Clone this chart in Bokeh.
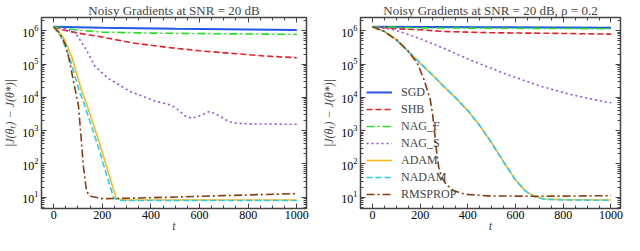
from bokeh.plotting import figure
from bokeh.layouts import row
from bokeh.models import (Range1d, LinearAxis, LogAxis, SingleIntervalTicker, LogTicker,
                          CustomJSTickFormatter)
from bokeh.embed import file_html
from bokeh.resources import INLINE

FONT = "Liberation Serif"

names = ["SGD", "SHB", "NAG_F", "NAG_S", "ADAM", "NADAM", "RMSPROP"]
titles = ["Noisy Gradients at SNR = 20 dB", "Noisy Gradients at SNR = 20 dB, \u03c1 = 0.2"]

# ---------------- left panel ----------------
L_sgd_t = [0, 200, 500, 1000]
L_sgd_y = [1.32e6, 1.23e6, 1.15e6, 1.05e6]
L_shb_t = [0, 40, 100, 183, 325, 463, 600, 870, 1000]
L_shb_y = [1.32e6, 1.05e6, 8.5e5, 6.8e5, 4.3e5, 3.2e5, 2.5e5, 1.74e5, 1.55e5]
L_nagf_t = [0, 50, 100, 200, 400, 700, 1000]
L_nagf_y = [1.32e6, 1.17e6, 1.05e6, 9.1e5, 8.5e5, 8.1e5, 7.8e5]
L_nags_t = [0, 50, 88, 129, 170, 224, 317, 415, 467, 500, 540, 569, 600, 642, 680, 720, 740, 800, 1000]
L_nags_y = [1.32e6, 1.12e6, 8.9e5, 3.1e5, 8.5e4, 3.7e4, 1.48e4, 7.8e3, 6.3e3, 5.0e3, 2.8e3,
            2.35e3, 2.8e3, 3.8e3, 2.8e3, 1.9e3, 1.7e3, 1.6e3, 1.55e3]
L_adam_t = [0, 20, 40, 75, 116, 135, 150, 190, 244, 257, 280, 400, 1000]
L_adam_y = [1.32e6, 9.5e5, 6.3e5, 1.6e5, 1.5e4, 6.5e3, 3.0e3, 390, 19, 9.5, 8.3, 8.3, 8.3]
L_nadam_t = [0, 15, 32, 65, 106, 125, 140, 180, 234, 248, 270, 400, 1000]
L_nadam_y = [1.32e6, 9.3e5, 6.3e5, 1.6e5, 1.5e4, 6.5e3, 3.0e3, 390, 19, 9.3, 8.0, 8.0, 8.0]
L_rms_t = [0, 25, 48, 65, 82, 102, 112, 122, 135, 145, 156, 200, 300, 467, 700, 1000]
L_rms_y = [1.32e6, 8.3e5, 3.9e5, 1.26e5, 2.9e4, 5.6e3, 740, 87, 15.5, 12, 10.5, 9.1, 9.3, 10, 11.2, 12.9]

# ---------------- right panel (rho = 0.2) ----------------
R_sgd_t = [0, 500, 1000]
R_sgd_y = [1.32e6, 1.27e6, 1.23e6]
R_shb_t = [0, 100, 200, 300, 500, 800, 1000]
R_shb_y = [1.32e6, 1.15e6, 1.07e6, 9.5e5, 8.7e5, 8.3e5, 7.9e5]
R_nagf_t = [0, 200, 1000]
R_nagf_y = [1.32e6, 1.22e6, 1.15e6]
R_nags_t = [0, 80, 160, 293, 428, 560, 693, 827, 980, 1000]
R_nags_y = [1.32e6, 1.12e6, 7.4e5, 3.1e5, 1.17e5, 5.0e4, 2.3e4, 1.23e4, 7.2e3, 6.9e3]
R_adam_t = [0, 50, 100, 150, 200, 250, 300, 350, 400, 450, 500, 550, 600, 640, 680, 720, 800, 1000]
R_adam_y = [1.32e6, 9.5e5, 5.4e5, 2.4e5, 1.07e5, 4.8e4, 2.1e4, 9.5e3, 4.0e3, 1.41e3, 430, 115,
            33, 15.8, 10.5, 8.9, 8.5, 8.3]
R_nadam_t = [0, 50, 100, 150, 200, 250, 300, 350, 400, 450, 500, 550, 600, 640, 680, 720, 800, 1000]
R_nadam_y = [1.32e6, 9.5e5, 5.4e5, 2.4e5, 1.07e5, 4.8e4, 2.1e4, 9.5e3, 4.0e3, 1.41e3, 430, 115,
             33, 15.6, 10.3, 8.7, 8.3, 8.1]
R_rms_t = [0, 50, 100, 148, 188, 215, 242, 252, 262, 270, 278, 290, 310, 340, 390, 484, 700, 1000]
R_rms_y = [1.32e6, 9.5e5, 5.4e5, 2.5e5, 1.07e5, 3.6e4, 8.9e3, 3.2e3, 740, 200, 79, 40, 24, 15.8,
           12.3, 11.0, 10.7, 11.2]

left_series = {
    "SGD": (L_sgd_t, L_sgd_y), "SHB": (L_shb_t, L_shb_y), "NAG_F": (L_nagf_t, L_nagf_y),
    "NAG_S": (L_nags_t, L_nags_y), "ADAM": (L_adam_t, L_adam_y),
    "NADAM": (L_nadam_t, L_nadam_y), "RMSPROP": (L_rms_t, L_rms_y),
}
right_series = {
    "SGD": (R_sgd_t, R_sgd_y), "SHB": (R_shb_t, R_shb_y), "NAG_F": (R_nagf_t, R_nagf_y),
    "NAG_S": (R_nags_t, R_nags_y), "ADAM": (R_adam_t, R_adam_y),
    "NADAM": (R_nadam_t, R_nadam_y), "RMSPROP": (R_rms_t, R_rms_y),
}

styles = {
    "SGD": dict(color="#2457e6", dash="solid", width=2.0),
    "SHB": dict(color="#e8202a", dash="6 3", width=1.6),
    "NAG_F": dict(color="#25dd25", dash="8 3 2 3", width=1.6),
    "NAG_S": dict(color="#9b4de8", dash="2 3", width=1.6),
    "ADAM": dict(color="#ffb81c", dash="solid", width=1.6),
    "NADAM": dict(color="#22d0f0", dash="6 3", width=1.6),
    "RMSPROP": dict(color="#8b3c0c", dash="8 3 2 3", width=1.6),
}

AX = "#444444"
YLABEL = "|J(\u03b8\u209c) \u2212 J(\u03b8*)|"


def make_fig(title, width, min_left, min_right, series, with_legend):
    p = figure(width=width, height=235, y_axis_type="log",
               x_range=Range1d(-50, 1040), y_range=Range1d(4.6, 2.5e6),
               output_backend="svg", toolbar_location=None,
               min_border_left=min_left, min_border_right=min_right,
               min_border_top=0, min_border_bottom=0, title=title)
    p.title.text_font = FONT
    p.title.text_font_size = "13px"
    p.title.text_font_style = "normal"
    p.title.align = "center"
    p.title.standoff = 0
    p.title.text_line_height = 1.0
    p.grid.grid_line_color = None
    p.outline_line_color = AX
    p.outline_line_width = 1.5
    p.background_fill_color = "white"
    p.border_fill_color = "white"

    p.xaxis.ticker = SingleIntervalTicker(interval=200, num_minor_ticks=4)
    p.yaxis.ticker = LogTicker(num_minor_ticks=10)
    for ax in [p.xaxis[0], p.yaxis[0]]:
        ax.major_label_text_font = FONT
        ax.major_label_text_font_size = "12px"
        ax.major_label_text_line_height = 1.0
        ax.major_label_text_color = "black"
        ax.axis_label_text_font = FONT
        ax.axis_label_text_font_size = "12px"
        ax.axis_label_text_line_height = 1.0
        ax.axis_label_text_font_style = "italic"
        ax.axis_line_color = None
        ax.major_tick_in = 5
        ax.major_tick_out = 0
        ax.minor_tick_in = 3
        ax.minor_tick_out = 0
        ax.major_tick_line_color = AX
        ax.minor_tick_line_color = AX
        ax.major_label_standoff = 3
    p.xaxis.axis_label = "t"
    p.xaxis.axis_label_standoff = -3
    p.xaxis.major_label_standoff = 2
    p.yaxis.axis_label = YLABEL
    p.yaxis.axis_label_standoff = 2

    blank = CustomJSTickFormatter(code="return ''")
    top = LinearAxis(ticker=SingleIntervalTicker(interval=200, num_minor_ticks=4), formatter=blank)
    right = LogAxis(ticker=LogTicker(num_minor_ticks=10), formatter=blank)
    for ax in (top, right):
        ax.axis_line_color = None
        ax.major_tick_in = 5
        ax.major_tick_out = 0
        ax.minor_tick_in = 3
        ax.minor_tick_out = 0
        ax.major_tick_line_color = AX
        ax.minor_tick_line_color = AX
        ax.major_label_standoff = 0
        ax.major_label_text_font_size = "1px"
    p.add_layout(top, "above")
    p.add_layout(right, "right")

    for name in names:
        t, y = series[name]
        st = styles[name]
        kw = dict(line_color=st["color"], line_width=st["width"], line_dash=st["dash"])
        if with_legend:
            kw["legend_label"] = name
        p.line(t, y, **kw)

    if with_legend:
        lg = p.legend[0]
        lg.location = "bottom_left"
        lg.background_fill_alpha = 0
        lg.border_line_color = None
        lg.label_text_font = FONT
        lg.label_text_font_size = "12px"
        lg.glyph_width = 26
        lg.glyph_height = 16
        lg.label_height = 16
        lg.spacing = 1
        lg.padding = 3
        lg.margin = 6
        lg.label_standoff = 9
    return p


f1 = make_fig(titles[0], 314, 36, 8, left_series, False)
f2 = make_fig(titles[1], 310, 46, 4, right_series, True)
layout = row(f1, f2)

open("out.html", "w").write(file_html(layout, INLINE))
